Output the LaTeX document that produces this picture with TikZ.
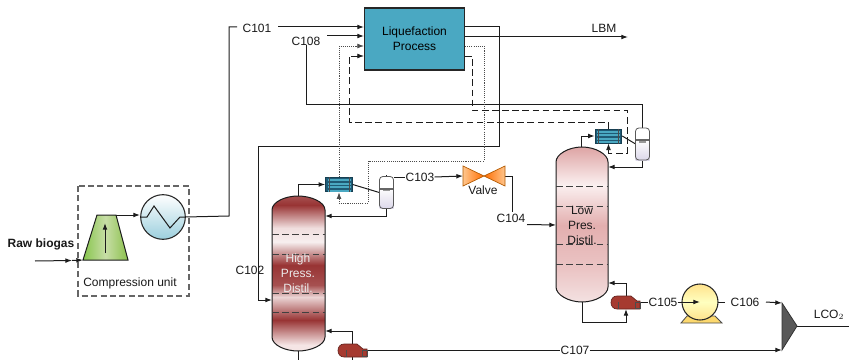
\documentclass[tikz,border=0pt]{standalone}
\usepackage{fontspec}
\setmainfont{Liberation Sans}
\usetikzlibrary{arrows.meta}
\definecolor{boxblue}{HTML}{4AA8C2}
\definecolor{linegray}{HTML}{1C1C1C}
\definecolor{darkteal}{HTML}{1F5A75}
\definecolor{reboil}{HTML}{A63A30}
\definecolor{lavend}{HTML}{DCD8EA}
\definecolor{hc1}{HTML}{F5E5E5}\definecolor{hc2}{HTML}{983434}\definecolor{hc3}{HTML}{EBD5D5}
\definecolor{hc4}{HTML}{A65050}\definecolor{hc5}{HTML}{F7EFEF}\definecolor{hc6}{HTML}{F0DEDE}
\definecolor{lc1}{HTML}{F3E0E0}\definecolor{lc2}{HTML}{EBC5C5}\definecolor{lc3}{HTML}{E3AFAF}
\definecolor{lc4}{HTML}{FBF0F0}\definecolor{lc5}{HTML}{E0AAAA}
\pgfdeclareverticalshading{highcol}{100bp}{
 color(0bp)=(hc1); color(27bp)=(hc1); color(35bp)=(hc2); color(42.4bp)=(hc3); color(46.3bp)=(hc4);
 color(52.7bp)=(hc2); color(60.2bp)=(hc5); color(64.7bp)=(hc6); color(72.1bp)=(hc2); color(75bp)=(hc4); color(100bp)=(hc4)}
\pgfdeclareverticalshading{lowcol}{100bp}{
 color(0bp)=(lc1); color(25.6bp)=(lc1); color(35.3bp)=(lc2); color(49.8bp)=(lc3); color(62.7bp)=(lc4); color(74bp)=(lc5); color(100bp)=(lc5)}
\tikzset{
 x=0.75pt,y=-0.75pt,
 line/.style={draw=linegray,line width=0.75pt},
 flow/.style={line,-{Latex[length=5pt,width=3.6pt]}},
 dotline/.style={draw=black!70,line width=0.6pt,dash pattern=on 0.8pt off 0.8pt},
 dashline/.style={draw=linegray,line width=0.6pt,dash pattern=on 5pt off 2.6pt},
 dotsflow/.style={dotline,-{Latex[length=5pt,width=3.6pt]}},
 dashflow/.style={dashline,-{Latex[length=5pt,width=3.6pt]}},
 tray/.style={draw=black!75,line width=0.65pt,dash pattern=on 5pt off 2.6pt},
 lab/.style={font=\fontsize{9}{10}\selectfont,inner sep=0pt,text=black!90},
 mlab/.style={lab,align=center},
 hxbox/.style={draw=darkteal!70!black,fill=darkteal,line width=0.6pt,inner sep=0pt},
 drumpic/.pic={
  \fill[white] (-7,-16) rectangle (7,-5);
  \shade[top color=white,bottom color=lavend] (-7,-5) rectangle (7,16);
  \fill[black!60] (-7,-5) rectangle (7,-3);
  \fill[black!40] (-3.5,-3) rectangle (3.5,-1.5);
  \draw[black!65,line width=0.6pt,rounded corners=2.5pt] (-7,-16) rectangle (7,16);
 },
 hxpic/.pic={
  \foreach \yy in {-4.5,-1,2.5,6}{\fill[boxblue] (-11.5,\yy-1) rectangle (11.5,\yy+1);}
  \draw[black!70,line width=0.5pt] (-10,-7.5) -- (-10,7.5) (10,-7.5) -- (10,7.5);
 }
}
\begin{document}
\begin{tikzpicture}
\useasboundingbox (0,0) rectangle (849,360);

% ---- equipment nodes
\node[draw=black!85,fill=boxblue,line width=0.9pt,minimum width=75.5pt,minimum height=46.5pt,inner sep=0pt,font=\fontsize{9}{11.2}\selectfont,align=center] (liq) at (414.5,39) {Liquefaction\\Process};
\node[hxbox,minimum width=20pt,minimum height=11pt] (hxa) at (339,184.5) {};
\node[hxbox,minimum width=20pt,minimum height=10.5pt] (hxb) at (608.5,136) {};
\node[inner sep=0pt,minimum width=10.5pt,minimum height=24pt] (druma) at (386.5,192.5) {};
\node[inner sep=0pt,minimum width=10pt,minimum height=24pt] (drumb) at (642.5,144) {};
\node[circle,draw=black!85,line width=0.8pt,minimum size=33.5pt,inner sep=0pt,top color=white,bottom color=boxblue!55] (cool) at (163,217) {};
\node[circle,inner sep=0pt,minimum size=27pt] (pump) at (700,302) {};

% ---- named points of the shapes
\coordinate (hctop) at (298,196); \coordinate (hcbot) at (298,351);
\coordinate (lctop) at (581,147); \coordinate (lcbot) at (582,302);
\coordinate (comptop) at (116,215); \coordinate (compin) at (83,260);
\coordinate (rawstart) at (35,261); \coordinate (rawmid) at (72,260.5);
\coordinate (hcfeed) at (272,300); \coordinate (hcret) at (325,216);
\coordinate (hcreb) at (325,331); \coordinate (lcreb) at (608,283);
\coordinate (lcret) at (608,167); \coordinate (lcfeed) at (556,225);
\coordinate (reba) at (352,345); \coordinate (rebaout) at (367,350);
\coordinate (rebb) at (626,297); \coordinate (rebbout) at (640,302);
\coordinate (rebbin) at (626,309);
\coordinate (mixtop) at (782,303); \coordinate (mixbot) at (782,350); \coordinate (mixout) at (797,326);
\coordinate (lcoend) at (849,326); \coordinate (lbmend) at (628,37);
\coordinate (valvein) at (463,176); \coordinate (valveout) at (505,176);
\coordinate (hcdown) at (298,360); \coordinate (rebadown) at (352,360);
\coordinate (liqA) at (364,27); \coordinate (liqB) at (364,36); \coordinate (liqC) at (364,46); \coordinate (liqD) at (364,56);
\coordinate (liqoA) at (465,27); \coordinate (liqoB) at (465,37); \coordinate (liqoC) at (465,46); \coordinate (liqoD) at (465,56);

% ---- labels
\node[lab,font=\fontsize{9}{10}\selectfont\bfseries] (raw) at (41,244) {Raw biogas};
\node[lab] (cu) at (130,283) {Compression unit};
\node[lab] (c101) at (257,28) {C101};
\node[lab] (c108) at (306,41) {C108};
\node[lab] (c102) at (250,270) {C102};
\node[lab] (c103) at (420,177) {C103};
\node[lab] (c104) at (511,218) {C104};
\node[lab] (c105) at (663,302) {C105};
\node[lab] (c106) at (745,302) {C106};
\node[lab] (c107) at (575,350) {C107};
\node[lab] (lbm) at (604,28) {LBM};
\node[lab] (lco) at (829,315) {LCO$_2$};
\node[lab] (valvel) at (483,190) {Valve};

% ---- connectors: solid
\draw[flow] (rawstart) -- (rawmid);
\draw[flow] (rawmid) -- (compin);
\draw[flow] (comptop) -- (140,215);
\draw[line] (cool.east) -- (229,216) |- (237,27);
\draw[flow] (278,27) -- (liqA);
\draw[flow] (327,36) -- (liqB);
\draw[line] (c108.south) ++(0,-1) -- (306,104) -| (drumb.north);
\draw[flow] (liqoB) -- (lbmend);
\draw[flow] (liqoA) -| (499,146) -| (258,300) -- (hcfeed);
\draw[flow] (hctop) |- (hxa.west);
\draw[line] (hxa.east) -- (druma.west);
\draw[flow] (druma.south) |- (hcret);
\draw[line] (druma.north) ++(0,-1) |- (c103.west);
\draw[flow] (c103.east) -- (valvein);
\draw[line] (valveout) -- (512,176) -- (512,212);
\draw[flow] (527,224.5) -- (lcfeed);
\draw[flow] (lctop) |- (hxb.west);
\draw[line] (hxb.east) -- (drumb.west);
\draw[flow] (drumb.south) |- (lcret);
\draw[flow] (reba) |- (hcreb);
\draw[line] (hcbot) -- (hcdown);
\draw[line] (352,355) -- (rebadown);
\draw[line] (rebaout) -- (c107.west);
\draw[flow] (c107.east) -- (mixbot);
\draw[flow] (rebb) |- (lcreb);
\draw[line] (rebbout) -- (c105.west);
\draw[line] (pump.east) -- (725,302);
\draw[flow] (766,302) -- (mixtop);
\draw[line] (mixout) -- (lcoend);

% ---- connectors: dotted and dashed
\draw[dotsflow] (hxa.north) |- (liqC);
\draw[dotsflow] (liqoC) -| (484,161) -| (368,203) -| (hxa.south);
\draw[dashflow] (hxb.north) |- (349,122) |- (liqD);
\draw[dashflow] (liqoD) -| (472,110) -| (627,153) -| (hxb.south);

% compression unit frame
\draw[draw=black!60,line width=0.8pt,dash pattern=on 4.5pt off 2.6pt] (78,186) rectangle (189,296);

% compressor
\draw[line,left color=green!35!olive!70,right color=green!30!olive!70,middle color=green!25!olive!35] (97,215) -- (116,215) -- (128,260) -- (83,260) -- cycle;
\draw[flow] (105,253) -- (105,223);

% cooler zig-zag
\draw[line] (cool.west) -- (147,217) -- (154,206) -- (170,228) -- (180,217) -- (cool.east);

% columns
\draw[line,shading=highcol] (272,210) .. controls (272,202) and (285,196) .. (hctop) .. controls (311,196) and (325,202) .. (325,210) -- (325,337) .. controls (325,345) and (311,351) .. (hcbot) .. controls (285,351) and (272,345) .. (272,337) -- cycle;
\foreach \yy in {234,254,293,312}{\draw[tray] (272,\yy) -- (325,\yy);}
\node[mlab,text=white!92!black,font=\fontsize{9}{11.2}\selectfont] at (298,273) {High\\Press.\\Distil.};

\draw[line,shading=lowcol] (556,162) .. controls (556,154) and (569,147) .. (582,147) .. controls (595,147) and (608,154) .. (608,162) -- (608,287) .. controls (608,295) and (595,302) .. (lcbot) .. controls (569,302) and (556,295) .. (556,287) -- cycle;
\foreach \yy in {186,206,244,264}{\draw[tray] (556,\yy) -- (608,\yy);}
\node[mlab,font=\fontsize{9}{11.2}\selectfont] at (582,225) {Low\\Pres.\\Distil.};

% heat exchangers and drums
\pic at (hxa.center) {hxpic};
\pic at (hxb.center) {hxpic};
\pic at (druma.center) {drumpic};
\pic at (drumb.center) {drumpic};

% valve
\draw[draw=orange!70!black,line width=0.5pt,left color=orange!45,right color=orange!85!red] (463,166) -- (484,176) -- (463,186) -- cycle;
\draw[draw=orange!70!black,line width=0.5pt,right color=orange!45,left color=orange!85!red] (505,166) -- (484,176) -- (505,186) -- cycle;

% reboilers
\draw[draw=reboil!60!black,line width=0.5pt,fill=reboil] (344,344) -- (357,344) -- (363,349) -- (367,349) -- (367,357) -- (344,357) .. controls (336,357) and (336,344) .. (344,344) -- cycle;
\draw[black!70,line width=0.5pt] (346,350) -- (346,357) (362,350) rectangle (367,356);
\draw[draw=reboil!60!black,line width=0.5pt,fill=reboil] (617,296) -- (631,296) -- (637,301) -- (640,301) -- (640,309) -- (617,309) .. controls (609,309) and (609,296) .. (617,296) -- cycle;
\draw[black!70,line width=0.5pt] (618,302) -- (618,309) (635,302) rectangle (640,308);
\draw[flow] (lcbot) |- (626,322) -- (rebbin);

% pump
\draw[draw=black!70,line width=0.6pt,fill=yellow!50!orange!55] (681,323) -- (687,316) -- (715,316) -- (722,323) -- cycle;
\draw[draw=black!85,line width=0.8pt,top color=yellow!50!orange!45,bottom color=yellow!50!orange!45,middle color=yellow!25] (700,302) circle (18);
\draw[flow] (c105.east) -- (pump.center);

% mixer
\draw[draw=black!80,line width=0.6pt,fill=black!65] (mixtop) -- (mixbot) -- (mixout) -- cycle;
\end{tikzpicture}
\end{document}
